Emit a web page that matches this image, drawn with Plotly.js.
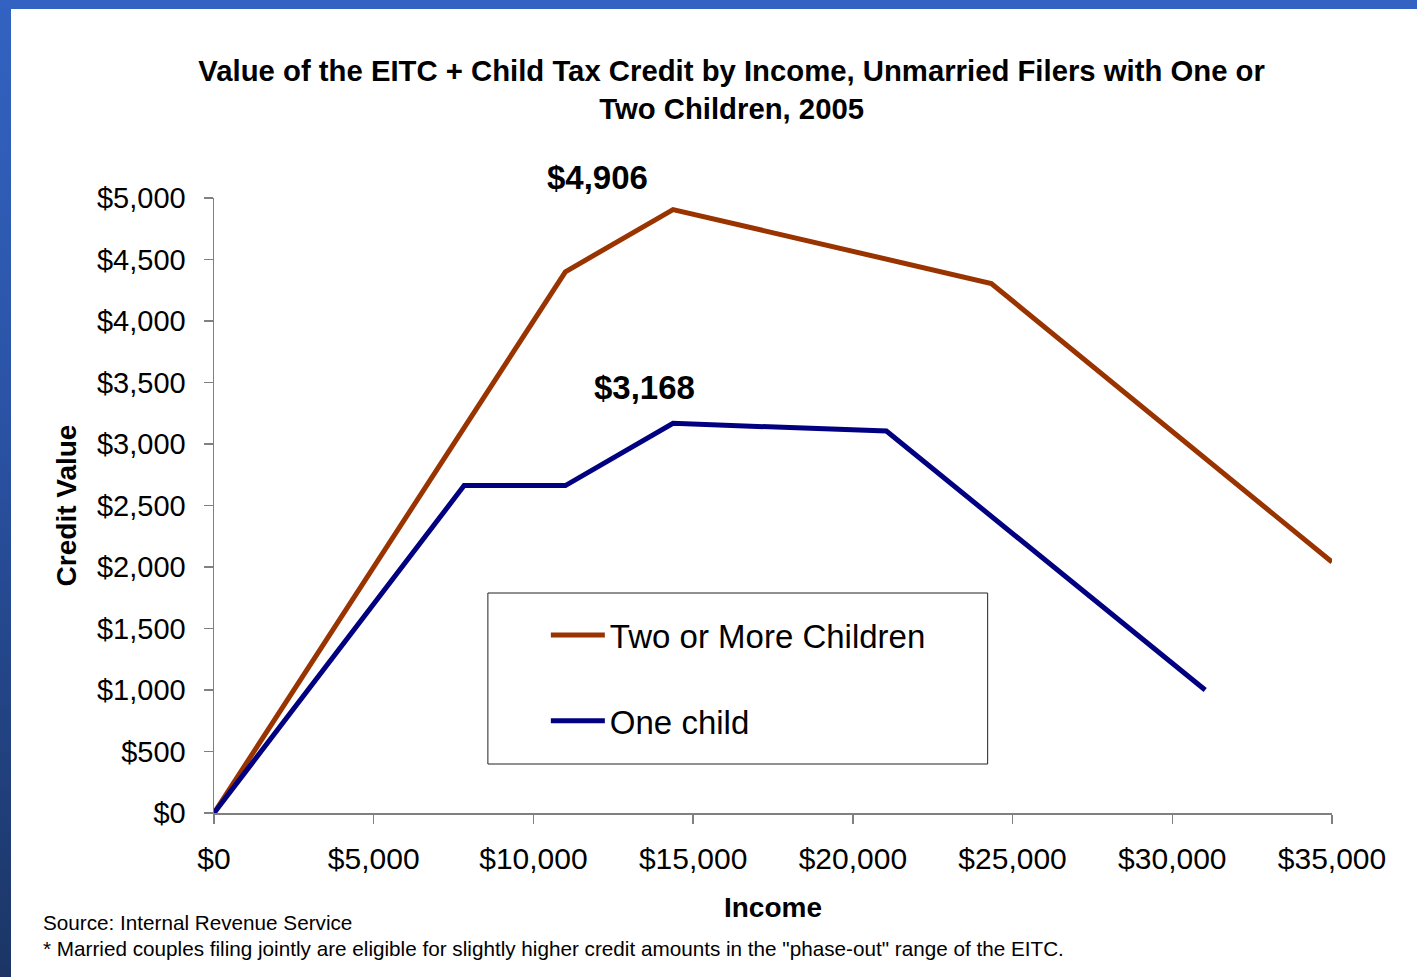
<!DOCTYPE html>
<html>
<head>
<meta charset="utf-8">
<script src="https://cdn.plot.ly/plotly-3.0.1.min.js"></script>
<style>
  html, body { margin: 0; padding: 0; width: 1417px; height: 977px; overflow: hidden; background: #ffffff; }
  #frame { position: absolute; left: 0; top: 0; width: 1417px; height: 977px; background: #ffffff; }
  #topbar { position: absolute; left: 0; top: 0; width: 1417px; height: 9px; background: #3263c2; }
  #leftbar { position: absolute; left: 0; top: 0; width: 11px; height: 977px; background: linear-gradient(to bottom, #3263c2 0%, #2a52a3 45%, #1b3565 100%); }
  #chart { position: absolute; left: 11px; top: 9px; width: 1406px; height: 968px; }
</style>
</head>
<body>
<div id="frame"><div id="topbar"></div><div id="leftbar"></div><div id="chart"></div></div>
<script>
// ---- data ----
const twoIncome  = [0, 11000, 14370, 24335, 35000];
const twoCredit  = [0, 4400, 4906, 4305, 2040];
const oneIncome  = [0, 7830, 11000, 14370, 21050, 31030];
const oneCredit  = [0, 2662, 2662, 3168, 3105, 1000];
const seriesNames = ["Two or More Children", "One child"];
const seriesColors = ["#993300", "#000080"];
const peakLabels = ["$4,906", "$3,168"];
const yTicks = [0, 500, 1000, 1500, 2000, 2500, 3000, 3500, 4000, 4500, 5000];
const xTicks = [0, 5000, 10000, 15000, 20000, 25000, 30000, 35000];
const titleText = "Value of the EITC + Child Tax Credit by Income, Unmarried Filers with One or<br>Two Children, 2005";
const sourceText = "Source: Internal Revenue Service";
const noteText = "* Married couples filing jointly are eligible for slightly higher credit amounts in the \"phase-out\" range of the EITC.";

const FONT = "Arial, 'Liberation Sans', sans-serif";

const traces = [
  { x: twoIncome, y: twoCredit, name: seriesNames[0], type: "scatter", mode: "lines",
    line: { color: seriesColors[0], width: 5 }, legendgroup: "a", hoverinfo: "none" },
  { x: oneIncome, y: oneCredit, name: seriesNames[1], type: "scatter", mode: "lines",
    line: { color: seriesColors[1], width: 5 }, legendgroup: "b", hoverinfo: "none" }
];

const twoPeakIdx = twoCredit.indexOf(Math.max(...twoCredit));
const onePeakIdx = oneCredit.indexOf(Math.max(...oneCredit));

const layout = {
  width: 1406, height: 968,
  margin: { l: 203, r: 84.5, t: 189, b: 164 },
  paper_bgcolor: "#ffffff", plot_bgcolor: "#ffffff",
  font: { family: FONT, color: "#000000" },
  showlegend: true,
  title: { text: titleText, font: { family: FONT, size: 29.3, color: "#000", weight: "bold" },
           xref: "paper", x: 0.463, xanchor: "center", yref: "container", y: 0.926, yanchor: "top" },
  xaxis: {
    range: [0, 35000], tickvals: xTicks, tickformat: "$,.0f",
    showgrid: false, zeroline: false, showline: true, linecolor: "#808080", linewidth: 1.5,
    ticks: "outside", ticklen: 9, tickcolor: "#808080", tickwidth: 1.5,
    tickfont: { family: FONT, size: 30, color: "#000" }, ticklabelstandoff: 9,
    title: { text: "Income", font: { family: FONT, size: 28, color: "#000", weight: "bold" }, standoff: 24 },
    fixedrange: true
  },
  yaxis: {
    range: [0, 5000], tickvals: yTicks, tickformat: "$,.0f",
    showgrid: false, zeroline: false, showline: true, linecolor: "#808080", linewidth: 1.5,
    ticks: "outside", ticklen: 9, tickcolor: "#808080", tickwidth: 1.5,
    tickfont: { family: FONT, size: 29, color: "#000" }, ticklabelstandoff: 12,
    title: { text: "Credit Value", font: { family: FONT, size: 28, color: "#000", weight: "bold" }, standoff: 12 },
    fixedrange: true
  },
  legend: {
    x: (546 - 214) / 1118.5, xanchor: "left", y: 0.335, yanchor: "top",
    bgcolor: "rgba(0,0,0,0)", borderwidth: 0,
    font: { family: FONT, size: 33, color: "#000" },
    tracegroupgap: 40, itemwidth: 54
  },
  shapes: [
    { type: "rect", xref: "paper", yref: "paper",
      x0: (488 - 214) / 1118.5, x1: (988 - 214) / 1118.5,
      y0: (813 - 764) / 615, y1: (813 - 593) / 615,
      line: { color: "#222222", width: 1 }, fillcolor: "rgba(0,0,0,0)", layer: "below" }
  ],
  annotations: [
    { x: twoIncome[twoPeakIdx], y: twoCredit[twoPeakIdx], xref: "x", yref: "y", text: peakLabels[0],
      showarrow: false, xshift: -76, yshift: 32, font: { family: FONT, size: 33, color: "#000", weight: "bold" } },
    { x: oneIncome[onePeakIdx], y: oneCredit[onePeakIdx], xref: "x", yref: "y", text: peakLabels[1],
      showarrow: false, xshift: -29, yshift: 36, font: { family: FONT, size: 33, color: "#000", weight: "bold" } },
    { x: (41 - 214) / 1118.5, y: (813 - 922) / 615, xref: "paper", yref: "paper", xanchor: "left", yanchor: "middle",
      text: sourceText, showarrow: false, font: { family: FONT, size: 20.7, color: "#000" } },
    { x: (41 - 214) / 1118.5, y: (813 - 948) / 615, xref: "paper", yref: "paper", xanchor: "left", yanchor: "middle",
      text: noteText, showarrow: false, font: { family: FONT, size: 20.7, color: "#000" } }
  ]
};

Plotly.newPlot("chart", traces, layout, { displayModeBar: false, staticPlot: true });
</script>
</body>
</html>
